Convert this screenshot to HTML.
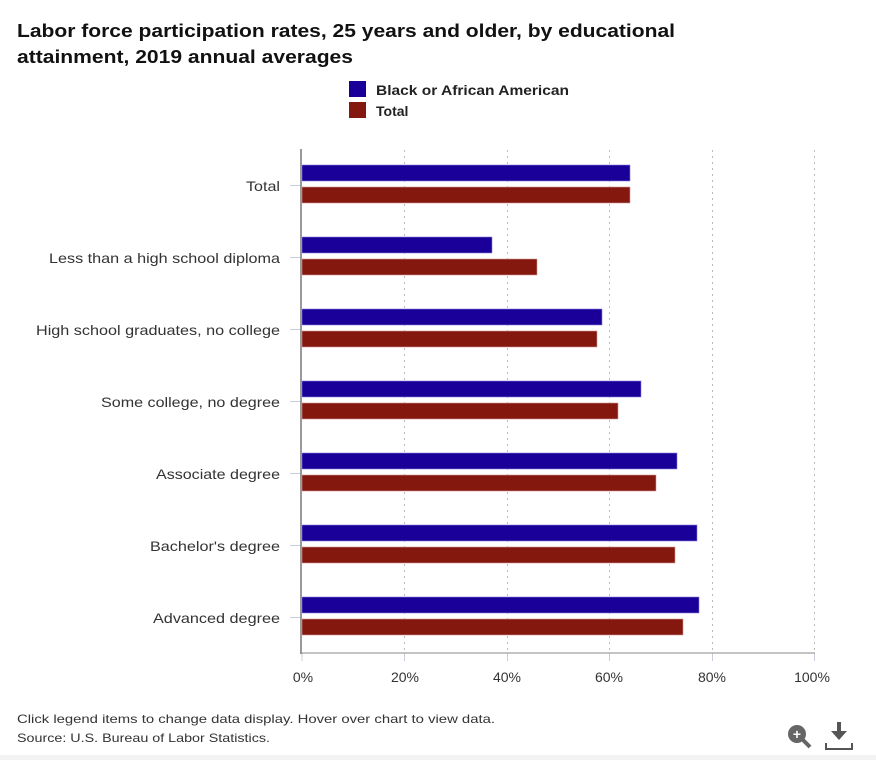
<!DOCTYPE html>
<html><head><style>
body{margin:0;background:#fff;font-family:"Liberation Sans",sans-serif;}
</style></head><body>
<svg width="876" height="760" xmlns="http://www.w3.org/2000/svg" font-family="Liberation Sans, sans-serif">
<rect width="876" height="760" fill="#fff"/>
<rect x="0" y="755" width="876" height="5" fill="#f3f3f3"/>
<text x="17" y="37" font-size="18" font-weight="bold" fill="#111" textLength="658" lengthAdjust="spacingAndGlyphs">Labor force participation rates, 25 years and older, by educational</text>
<text x="17" y="63" font-size="18" font-weight="bold" fill="#111" textLength="336" lengthAdjust="spacingAndGlyphs">attainment, 2019 annual averages</text>
<rect x="349" y="81" width="17" height="16" fill="#1a0099"/>
<text x="376" y="95" font-size="14" font-weight="bold" fill="#222" textLength="193" lengthAdjust="spacingAndGlyphs">Black or African American</text>
<rect x="349" y="102" width="17" height="16" fill="#84170e"/>
<text x="376" y="116" font-size="14" font-weight="bold" fill="#222">Total</text>
<g stroke="#bbb" stroke-width="1" stroke-dasharray="2,4">
<line x1="404.5" y1="150" x2="404.5" y2="653"/>
<line x1="507.5" y1="150" x2="507.5" y2="653"/>
<line x1="609.5" y1="150" x2="609.5" y2="653"/>
<line x1="712.5" y1="150" x2="712.5" y2="653"/>
<line x1="814.5" y1="150" x2="814.5" y2="653"/>
</g>
<g stroke="#ccd" stroke-width="1">
<line x1="302" y1="653" x2="302" y2="661"/><line x1="404.5" y1="653" x2="404.5" y2="661"/><line x1="507.5" y1="653" x2="507.5" y2="661"/><line x1="609.5" y1="653" x2="609.5" y2="661"/><line x1="712.5" y1="653" x2="712.5" y2="661"/><line x1="814.5" y1="653" x2="814.5" y2="661"/>
</g>
<g fill="#1a0099" stroke="#8880dd" stroke-width="0.6">
<rect x="302" y="165" width="328" height="16"/>
<rect x="302" y="237" width="190" height="16"/>
<rect x="302" y="309" width="300" height="16"/>
<rect x="302" y="381" width="339" height="16"/>
<rect x="302" y="453" width="375" height="16"/>
<rect x="302" y="525" width="395" height="16"/>
<rect x="302" y="597" width="397" height="16"/>
</g>
<g fill="#84170e" stroke="#d09a95" stroke-width="0.6">
<rect x="302" y="187" width="328" height="16"/>
<rect x="302" y="259" width="235" height="16"/>
<rect x="302" y="331" width="295" height="16"/>
<rect x="302" y="403" width="316" height="16"/>
<rect x="302" y="475" width="354" height="16"/>
<rect x="302" y="547" width="373" height="16"/>
<rect x="302" y="619" width="381" height="16"/>
</g>
<line x1="301" y1="149" x2="301" y2="654" stroke="#999" stroke-width="2"/>
<line x1="300" y1="653" x2="815" y2="653" stroke="#888" stroke-width="1"/>
<g stroke="#ccd" stroke-width="1">
<line x1="290" y1="185.5" x2="300" y2="185.5"/><line x1="290" y1="257.5" x2="300" y2="257.5"/><line x1="290" y1="329.5" x2="300" y2="329.5"/><line x1="290" y1="401.5" x2="300" y2="401.5"/><line x1="290" y1="473.5" x2="300" y2="473.5"/><line x1="290" y1="545.5" x2="300" y2="545.5"/><line x1="290" y1="617.5" x2="300" y2="617.5"/>
</g>
<g font-size="14" fill="#333" text-anchor="end" lengthAdjust="spacingAndGlyphs">
<text x="280" y="191" textLength="34" lengthAdjust="spacingAndGlyphs">Total</text>
<text x="280" y="263" textLength="231" lengthAdjust="spacingAndGlyphs">Less than a high school diploma</text>
<text x="280" y="335" textLength="244" lengthAdjust="spacingAndGlyphs">High school graduates, no college</text>
<text x="280" y="407" textLength="179" lengthAdjust="spacingAndGlyphs">Some college, no degree</text>
<text x="280" y="479" textLength="124" lengthAdjust="spacingAndGlyphs">Associate degree</text>
<text x="280" y="551" textLength="130" lengthAdjust="spacingAndGlyphs">Bachelor's degree</text>
<text x="280" y="623" textLength="127" lengthAdjust="spacingAndGlyphs">Advanced degree</text>
</g>
<g font-size="14" fill="#333" text-anchor="middle">
<text x="303" y="682">0%</text><text x="405" y="682">20%</text><text x="507" y="682">40%</text><text x="609" y="682">60%</text><text x="712" y="682">80%</text><text x="812" y="682">100%</text>
</g>
<text x="17" y="723" font-size="12" fill="#333" textLength="478" lengthAdjust="spacingAndGlyphs">Click legend items to change data display. Hover over chart to view data.</text>
<text x="17" y="742" font-size="12" fill="#333" textLength="253" lengthAdjust="spacingAndGlyphs">Source: U.S. Bureau of Labor Statistics.</text>
<circle cx="797" cy="734" r="9" fill="#666"/>
<line x1="803" y1="740" x2="810" y2="747" stroke="#666" stroke-width="4"/>
<text x="797" y="739" font-size="14" font-weight="bold" fill="#fff" text-anchor="middle">+</text>
<rect x="837" y="722" width="4" height="10" fill="#555"/>
<polygon points="831,731 847,731 839,740" fill="#555"/>
<polyline points="826,743 826,749 852,749 852,743" fill="none" stroke="#555" stroke-width="2"/>
</svg>
</body></html>
